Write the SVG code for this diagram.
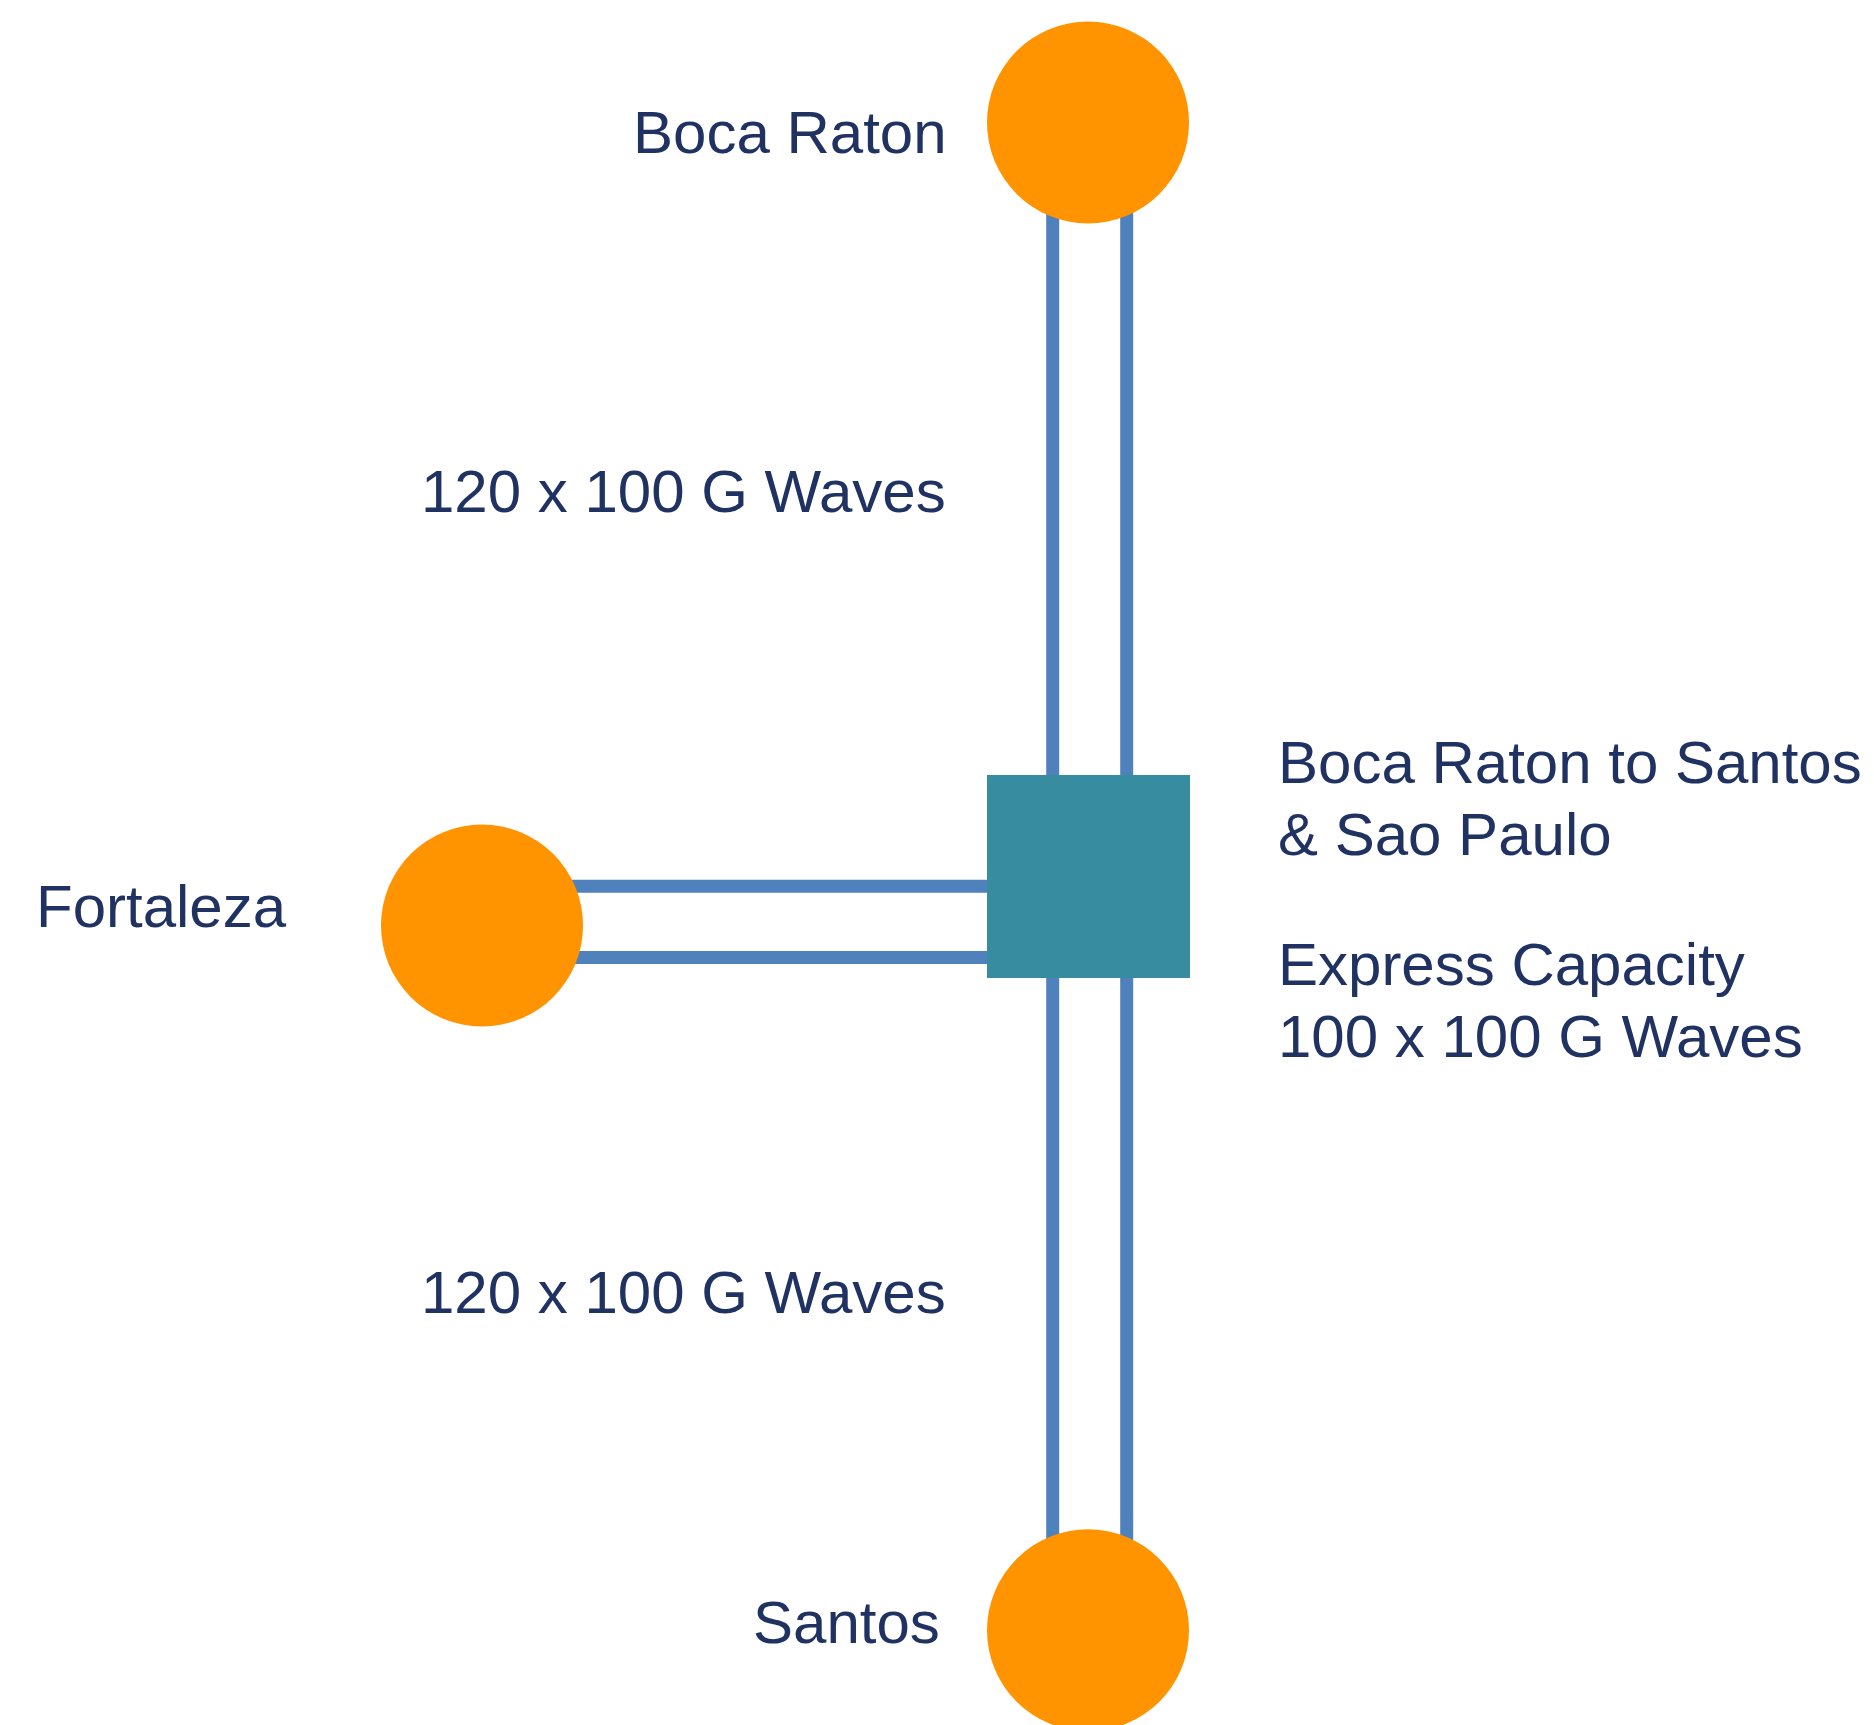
<svg xmlns="http://www.w3.org/2000/svg" width="1874" height="1725" viewBox="0 0 1874 1725">
<style>
.lbl{font-family:"Liberation Sans",Arial,sans-serif;font-size:60px;fill:#203262}
.link{stroke:#4F81BD;stroke-width:13;fill:none}
.site{fill:#FF9400}
.hub{fill:#388CA0}
</style>
<rect width="1874" height="1725" fill="#FFFFFF"/>
<g id="connectors">
<line class="link" x1="1052.7" y1="122" x2="1052.7" y2="1630"/>
<line class="link" x1="1126.7" y1="122" x2="1126.7" y2="1630"/>
<line class="link" x1="482" y1="886.3" x2="1088" y2="886.3"/>
<line class="link" x1="482" y1="957.5" x2="1088" y2="957.5"/>
</g>
<g id="node-boca-raton">
<circle class="site" cx="1088" cy="122.5" r="101"/>
<text class="lbl" x="633" y="153">Boca Raton</text>
</g>
<g id="node-fortaleza">
<circle class="site" cx="482" cy="925.5" r="101"/>
<text class="lbl" x="36" y="927">Fortaleza</text>
</g>
<g id="node-santos">
<circle class="site" cx="1088" cy="1630.3" r="101"/>
<text class="lbl" x="753" y="1643">Santos</text>
</g>
<g id="node-hub">
<rect class="hub" x="987" y="775" width="203" height="203"/>
<text class="lbl" x="1278" y="783">Boca Raton to Santos</text>
<text class="lbl" x="1278" y="855">&amp; Sao Paulo</text>
<text class="lbl" x="1278" y="985">Express Capacity</text>
<text class="lbl" x="1278" y="1057">100 x 100 G Waves</text>
</g>
<g id="labels">
<text class="lbl" x="421" y="512">120 x 100 G Waves</text>
<text class="lbl" x="421" y="1313">120 x 100 G Waves</text>
</g>
</svg>
